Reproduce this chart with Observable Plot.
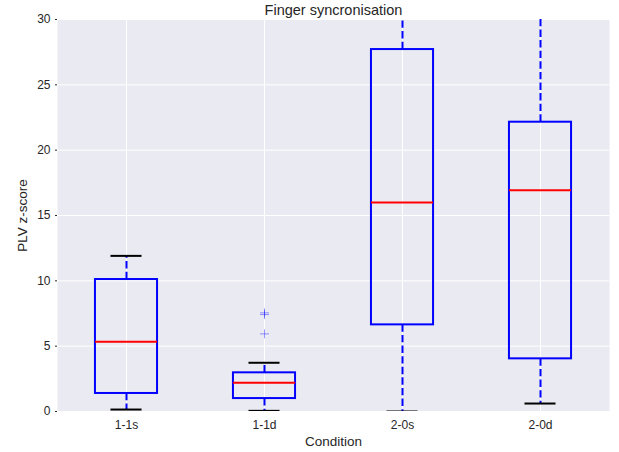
<!DOCTYPE html>
<html>
<head>
<meta charset="utf-8">
<script src="https://cdn.jsdelivr.net/npm/d3@7"></script>
<script src="https://cdn.jsdelivr.net/npm/@observablehq/plot@0.6"></script>
<style>
  html, body { margin: 0; padding: 0; background: #fff; }
  svg { font-family: "Liberation Sans", Arial, sans-serif; }
</style>
</head>
<body>
<div id="chart"></div>
<script>
const categories = ["1-1s", "1-1d", "2-0s", "2-0d"];
const whiskerLow = [0.15, 0.05, 0.0, 0.61];
const q1 = [1.38, 0.99, 6.63, 4.03];
const medians = [5.33, 2.2, 16.0, 16.93];
const q3 = [10.1, 2.96, 27.7, 22.14];
const whiskerHigh = [11.91, 3.73, 34.0, 33.0];
const outlierCat = ["1-1d", "1-1d", "1-1d"];
const outlierVal = [7.42, 7.55, 5.94];
const yTicks = [0, 5, 10, 15, 20, 25, 30];

const boxes = categories.map((c, i) => ({
  cat: c, pos: i + 1,
  lo: whiskerLow[i], q1: q1[i], med: medians[i], q3: q3[i], hi: whiskerHigh[i]
}));
const outliers = outlierVal.map((v, i) => ({pos: categories.indexOf(outlierCat[i]) + 1, v}));

const halfBox = 0.225, halfCap = 0.1125;
const txt = "#262626";

const chart = Plot.plot({
  width: 619,
  height: 452,
  marginLeft: 57,
  marginRight: 10,
  marginTop: 19,
  marginBottom: 41,
  style: {fontFamily: "Liberation Sans, Arial, sans-serif", fontSize: "12px", color: txt, background: "#fff"},
  x: {domain: [0.5, 4.5]},
  y: {domain: [0, 30]},
  marks: [
    Plot.frame({fill: "#EAEAF2", stroke: "none"}),
    Plot.gridY(yTicks, {stroke: "#fff", strokeOpacity: 1, strokeWidth: 1}),
    Plot.gridX(boxes.map(d => d.pos), {stroke: "#fff", strokeOpacity: 1, strokeWidth: 1}),
    Plot.axisY(yTicks, {tickSize: 2, tickPadding: 5, stroke: txt, fontSize: 12, label: null}),
    Plot.axisX(boxes.map(d => d.pos), {tickSize: 0, tickPadding: 9, tickFormat: d => categories[d - 1],
      fontSize: 12, label: null}),
    // whiskers
    Plot.ruleX(boxes, {x: "pos", y1: "q3", y2: "hi", stroke: "#0000ff", strokeWidth: 2, strokeDasharray: "7.4,3.2", clip: true}),
    Plot.ruleX(boxes, {x: "pos", y1: "q1", y2: "lo", stroke: "#0000ff", strokeWidth: 2, strokeDasharray: "7.4,3.2", clip: true}),
    // caps
    Plot.ruleY(boxes, {y: "hi", x1: d => d.pos - halfCap, x2: d => d.pos + halfCap, stroke: "#000", strokeWidth: 2, clip: true}),
    Plot.ruleY(boxes, {y: "lo", x1: d => d.pos - halfCap, x2: d => d.pos + halfCap, stroke: "#000", strokeWidth: 2, clip: true}),
    // boxes
    Plot.rect(boxes, {x1: d => d.pos - halfBox, x2: d => d.pos + halfBox, y1: "q1", y2: "q3",
      fill: "none", stroke: "#0000ff", strokeWidth: 2}),
    // medians
    Plot.ruleY(boxes, {y: "med", x1: d => d.pos - halfBox, x2: d => d.pos + halfBox, stroke: "#ff0000", strokeWidth: 2}),
    // outliers
    Plot.dot(outliers, {x: "pos", y: "v", symbol: "plus", r: 3, stroke: "#0000ff", strokeOpacity: 0.4, strokeWidth: 1}),
    // title and axis labels
    Plot.text(["Finger syncronisation"], {frameAnchor: "top", lineAnchor: "bottom", dy: -5, fontSize: 14.5, fill: txt}),
    Plot.text(["Condition"], {frameAnchor: "bottom", lineAnchor: "middle", dy: 30, fontSize: 13.5, fill: txt}),
    Plot.text(["PLV z-score"], {frameAnchor: "left", textAnchor: "middle", lineAnchor: "middle", rotate: -90, dx: -35, fontSize: 13.5, fill: txt})
  ]
});
document.getElementById("chart").appendChild(chart);
</script>
</body>
</html>
